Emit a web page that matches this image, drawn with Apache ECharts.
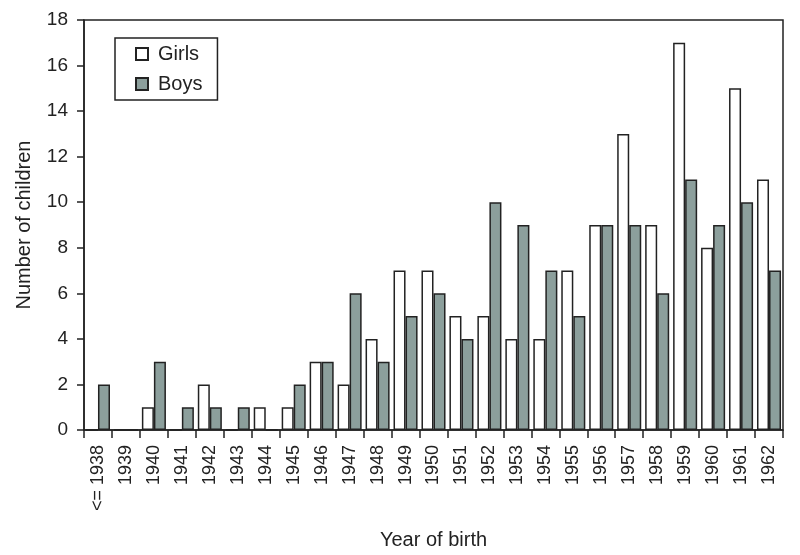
<!DOCTYPE html>
<html>
<head>
<meta charset="utf-8">
<script src="https://cdn.jsdelivr.net/npm/echarts@6/dist/echarts.min.js"></script>
<style>html,body{margin:0;padding:0;background:#fff}#c{width:800px;height:555px}</style>
</head>
<body>
<div id="c"></div>
<script>
var categories = ['<= 1938','1939','1940','1941','1942','1943','1944','1945','1946','1947','1948','1949','1950','1951','1952','1953','1954','1955','1956','1957','1958','1959','1960','1961','1962'];
var girls = [0,0,1,0,2,0,1,1,3,2,4,7,7,5,5,4,4,7,9,13,9,17,8,15,11];
var boys  = [2,0,3,1,1,1,0,2,3,6,3,5,6,4,10,9,7,5,9,9,6,11,9,10,7];
var yTicks = [0,2,4,6,8,10,12,14,16,18];

var FONT = '"Liberation Sans", Arial, sans-serif';
var INK = '#222';
var chart = echarts.init(document.getElementById('c'), null, {renderer: 'canvas'});
chart.setOption({
  animation: false,
  backgroundColor: '#fff',
  textStyle: {fontFamily: FONT, color: INK},
  grid: {left: 84, right: 17, top: 20, bottom: 124, show: true, borderColor: INK, borderWidth: 1.5, backgroundColor: 'transparent'},
  legend: {
    orient: 'vertical', left: 115, top: 38,
    padding: [6, 15, 6, 20], itemGap: 10, itemWidth: 12, itemHeight: 12,
    borderColor: INK, borderWidth: 1.5,
    icon: 'rect',
    textStyle: {fontFamily: FONT, fontSize: 20, color: INK, padding: [0, 0, 0, 5]},
    data: ['Girls', 'Boys']
  },
  xAxis: {
    type: 'category', data: categories,
    name: 'Year of birth', nameLocation: 'middle', nameGap: 100,
    nameTextStyle: {fontFamily: FONT, fontSize: 20, color: INK},
    axisLine: {lineStyle: {color: INK, width: 1.5}},
    axisTick: {show: true, length: 8, lineStyle: {color: INK, width: 1.5}},
    axisLabel: {interval: 0, rotate: 90, margin: 15, fontFamily: FONT, fontSize: 18, color: INK}
  },
  yAxis: {
    type: 'value', min: yTicks[0], max: yTicks[yTicks.length - 1], interval: yTicks[1] - yTicks[0],
    name: 'Number of children', nameLocation: 'middle', nameGap: 50,
    nameTextStyle: {fontFamily: FONT, fontSize: 20, color: INK},
    axisLine: {show: true, lineStyle: {color: INK, width: 1.5}},
    axisTick: {show: true, length: 7, lineStyle: {color: INK, width: 1.5}},
    splitLine: {show: false},
    axisLabel: {margin: 16, fontFamily: FONT, fontSize: 19, color: INK}
  },
  series: [
    {name: 'Girls', type: 'bar', data: girls, barGap: '0%', barCategoryGap: '14%',
     itemStyle: {color: '#ffffff', borderColor: INK, borderWidth: 1.5}},
    {name: 'Boys', type: 'bar', data: boys, barGap: '0%', barCategoryGap: '14%',
     itemStyle: {color: '#8c9f9c', borderColor: INK, borderWidth: 1.5}}
  ]
});
</script>
</body>
</html>
